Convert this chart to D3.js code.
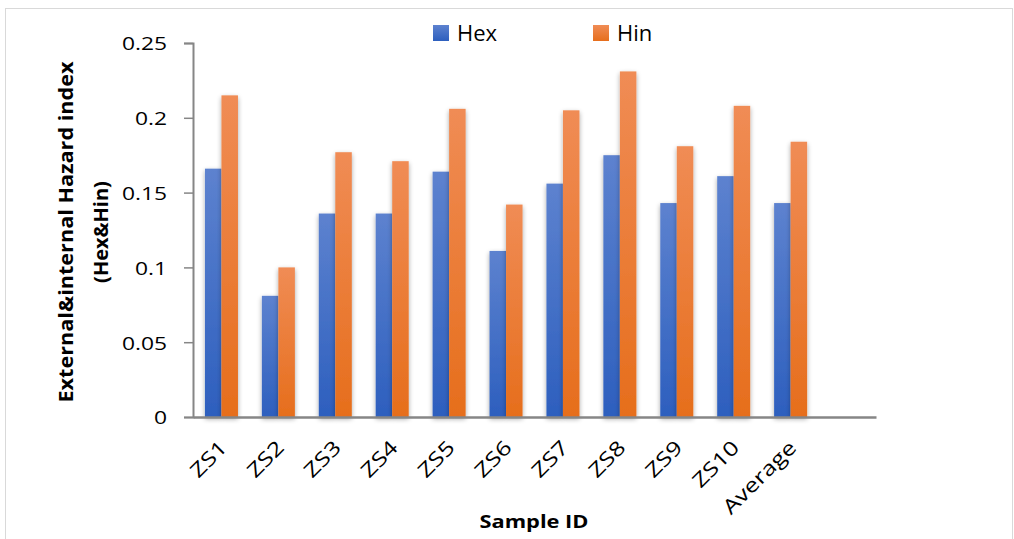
<!DOCTYPE html>
<html><head><meta charset="utf-8">
<script src="https://cdn.jsdelivr.net/npm/d3@7"></script>
<style>body{margin:0;background:#fff}svg{display:block}text{font-family:"Open Sans","Noto Sans",sans-serif}</style>
</head><body><svg id="c" width="1014" height="539"></svg>
<script>
const categories = ["ZS1","ZS2","ZS3","ZS4","ZS5","ZS6","ZS7","ZS8","ZS9","ZS10","Average",""];
const hexValues = [0.166,0.081,0.136,0.136,0.164,0.111,0.156,0.175,0.143,0.161,0.143];
const hinValues = [0.215,0.100,0.177,0.171,0.206,0.142,0.205,0.231,0.181,0.208,0.184];
const seriesNames = ["Hex","Hin"];
const yTicks = [0,0.05,0.1,0.15,0.2,0.25];
const yTickLabels = ["0","0.05","0.1","0.15","0.2","0.25"];

const svg = d3.select("#c");
const defs = svg.append("defs");
function grad(id, top, bot){
  const g = defs.append("linearGradient").attr("id",id).attr("x1",0).attr("y1",0).attr("x2",0).attr("y2",1);
  g.append("stop").attr("offset","0%").attr("stop-color",top);
  g.append("stop").attr("offset","100%").attr("stop-color",bot);
}
grad("gHex","#5d82cf","#2d5fbe");
grad("gHin","#f08c55","#e66e1c");
const f = defs.append("filter").attr("id","sh").attr("x","-50%").attr("y","-10%").attr("width","200%").attr("height","120%");
f.append("feGaussianBlur").attr("in","SourceAlpha").attr("stdDeviation",2.5).attr("result","b");
f.append("feOffset").attr("in","b").attr("dx",0).attr("dy",2).attr("result","o");
f.append("feComponentTransfer").attr("in","o").attr("result","o2").append("feFuncA").attr("type","linear").attr("slope",0.35);
const m = f.append("feMerge"); m.append("feMergeNode").attr("in","o2"); m.append("feMergeNode").attr("in","SourceGraphic");

svg.append("rect").attr("x",5.5).attr("y",8.5).attr("width",1007).attr("height",560).attr("fill","#fff").attr("stroke","#d9d9d9").attr("stroke-width",1);

const stretch = 1.2;
function widen(sel, k){
  sel.each(function(){ const w=this.getComputedTextLength(); d3.select(this).attr("textLength",w*k).attr("lengthAdjust","spacingAndGlyphs"); });
}

const L=193, R=876, T=43, B=417;
const x = d3.scaleBand().domain(categories).range([L,R]).paddingInner(0).paddingOuter(0);
const bw = x.bandwidth()*0.29;
const y = d3.scaleLinear().domain([0,0.25]).range([B,T]);

const gBars = svg.append("g");
categories.slice(0,hexValues.length).forEach((c,i)=>{
  const cx = x(c)+x.bandwidth()/2;
  gBars.append("rect").attr("x",cx-bw).attr("y",y(hexValues[i])).attr("width",bw).attr("height",B-y(hexValues[i])).attr("fill","url(#gHex)").attr("filter","url(#sh)");
  gBars.append("rect").attr("x",cx).attr("y",y(hinValues[i])).attr("width",bw).attr("height",B-y(hinValues[i])).attr("fill","url(#gHin)").attr("filter","url(#sh)");
});

// y axis
const ya = svg.append("g").attr("transform",`translate(${L},0)`)
  .call(d3.axisLeft(y).tickValues(yTicks).tickFormat((d,i)=>yTickLabels[i]).tickSizeOuter(0).tickSize(9).tickPadding(17));
ya.select(".domain").attr("stroke","#868686").attr("stroke-width",2);
ya.selectAll(".tick line").attr("stroke","#868686").attr("stroke-width",1.5);
ya.selectAll(".tick text").attr("font-size",19).attr("fill","#000").attr("font-family","'Open Sans',sans-serif").attr("dy","0.36em");
widen(ya.selectAll(".tick text"), stretch);

// x axis
const xa = svg.append("g").attr("transform",`translate(0,${B})`).call(d3.axisBottom(x).tickSize(0).tickFormat(""));
xa.select(".domain").attr("stroke","#868686").attr("stroke-width",2.5);
const xl = svg.append("g").selectAll("text").data(categories.filter(c=>c)).join("text")
  .attr("transform",d=>`translate(${x(d)+x.bandwidth()/2+7},${B+32}) rotate(-45)`)
  .attr("text-anchor","end").attr("font-size",20).attr("fill","#000").text(d=>d);
widen(xl, 1.25);

// titles
const xt = svg.append("text").attr("x",534).attr("y",528).attr("text-anchor","middle").attr("font-size",18).attr("font-weight","bold").text("Sample ID");
xt.attr("textLength",109).attr("lengthAdjust","spacingAndGlyphs");
const yt = svg.append("text").attr("transform","translate(73,232) rotate(-90)").attr("text-anchor","middle").attr("font-size",20).attr("font-weight","bold");
yt.append("tspan").attr("x",0).attr("dy",0).attr("textLength",341).attr("lengthAdjust","spacingAndGlyphs").text("External&internal Hazard index");
yt.append("tspan").attr("x",0).attr("dy",35).text("(Hex&Hin)");

// legend
const legX=[433,593];
seriesNames.forEach((s,i)=>{
  svg.append("rect").attr("x",legX[i]).attr("y",25).attr("width",16).attr("height",16).attr("fill",i?"url(#gHin)":"url(#gHex)");
  svg.append("text").attr("x",legX[i]+24).attr("y",41).attr("font-size",22).attr("fill","#000").text(s);
});
</script></body></html>
